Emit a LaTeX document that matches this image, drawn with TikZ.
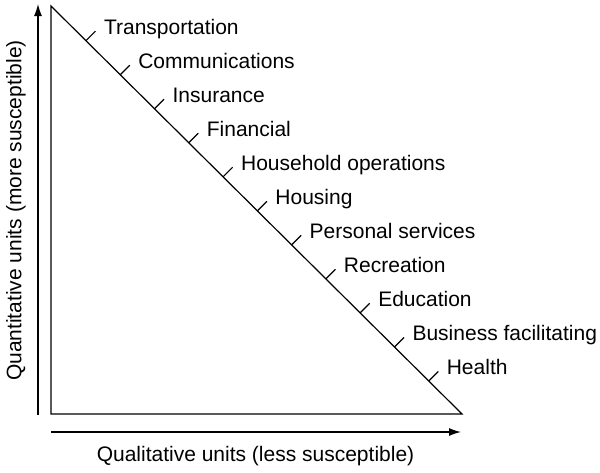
\documentclass[tikz,border=0pt]{standalone}
\usepackage{fontspec}
\setmainfont{Liberation Sans}
\usetikzlibrary{arrows.meta,calc}
\tikzset{
  axisline/.style={-{Latex[length=6pt,width=4pt]},line width=0.6pt},
  unitlabel/.style={anchor=base west,inner sep=0pt,font=\fontsize{10.5}{12}\selectfont}
}

\begin{document}
\begin{tikzpicture}[x=0.5pt,y=-0.5pt,line width=0.6pt]
\useasboundingbox (0,0) rectangle (600,472);
\coordinate (apex) at (51,6);
\coordinate (origin) at (51,414);
\coordinate (corner) at (462,414);
\draw (apex) -- (origin) -- (corner) -- cycle;
% ticks along the hypotenuse
\foreach \name [count=\i from 0] in {Transportation,Communications,Insurance,Financial,Household operations,Housing,Personal services,Recreation,Education,Business facilitating,Health}
{
  \coordinate (t\i) at ($(apex)!{0.085+0.0834*\i}!(corner)$);
  \draw (t\i) -- ++(9.5,-9.5) coordinate (e\i);
  \node[unitlabel] (l\i) at ($(e\i)+(8,3)$) {\name};
}
% axes
\coordinate (ybot) at (38,415);
\coordinate (ytop) at (38,4);
\coordinate (xleft) at (51,432);
\coordinate (xright) at (461,432);
\draw[axisline] (ybot) -- (ytop);
\draw[axisline] (xleft) -- (xright);
\node[rotate=90,inner sep=0pt,font=\fontsize{10.5}{12}\selectfont] (ylab) at (16,210.5) {Quantitative units (more susceptible)};
\node[inner sep=0pt,font=\fontsize{10.5}{12}\selectfont] (xlab) at (255.5,456) {Qualitative units (less susceptible)};
\end{tikzpicture}
\end{document}
